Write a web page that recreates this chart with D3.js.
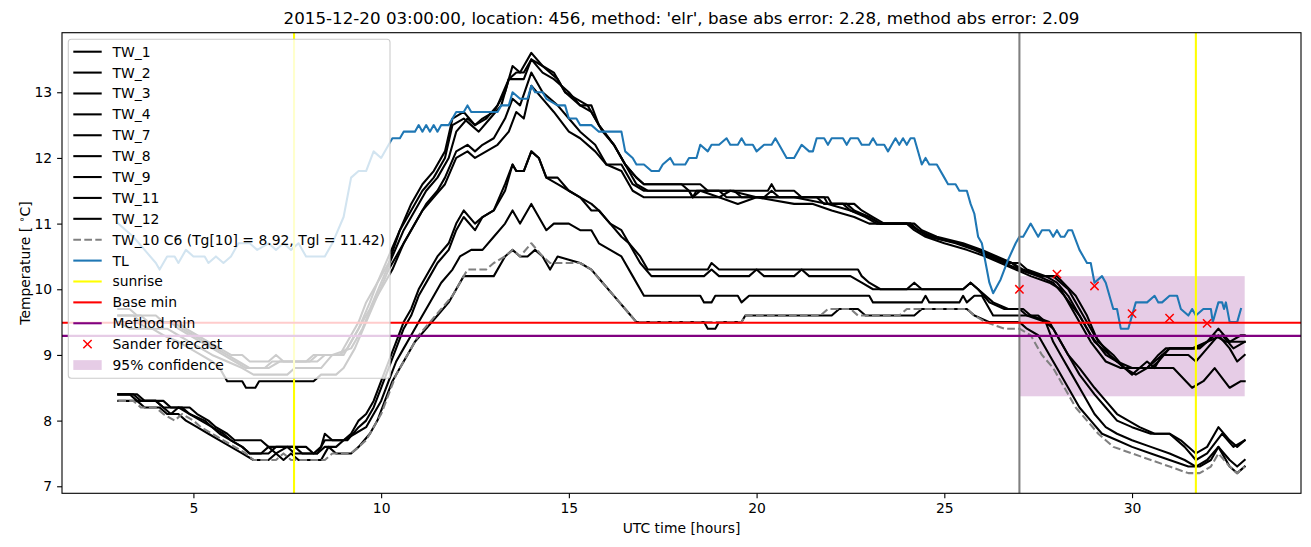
<!DOCTYPE html>
<html><head><meta charset="utf-8">
<script src="https://cdn.jsdelivr.net/npm/d3@7"></script>
<style>body{margin:0;background:#fff} text{font-family:"DejaVu Sans",sans-serif;fill:#000}</style>
</head><body><svg id="c" width="1311" height="547"></svg>
<script>
// ---------- data ([UTC hour, temperature °C]) ----------
const tw1 = [[3.0,9.7],[3.3,9.7],[3.5,9.6],[4.0,9.6],[4.2,9.5],[4.6,9.5],[4.8,9.4],[5.1,9.3],[5.4,9.2],[5.7,9.1],[6.0,9.0],[6.3,9.0],[6.5,8.9],[7.0,8.9],[7.2,9.0],[7.4,8.9],[8.0,8.9],[8.2,9.0],[8.9,9.0],[9.1,9.2],[9.4,9.5],[9.6,9.8],[9.8,10.0],[10.0,10.2],[10.2,10.4],[10.5,10.9],[10.8,11.3],[11.1,11.6],[11.4,11.8],[11.7,12.1],[11.9,12.6],[12.2,12.7],[12.5,12.5],[12.7,12.6],[13.0,12.7],[13.3,13.0],[13.5,13.4],[13.7,13.3],[14.0,13.6],[14.3,13.4],[14.7,13.2],[14.9,13.0],[15.3,12.8],[15.6,12.8],[15.8,12.5],[16.2,12.2],[16.5,11.9],[16.8,11.7],[17.0,11.6],[18.5,11.6],[18.7,11.5],[19.5,11.5],[20.3,11.5],[20.4,11.6],[20.5,11.5],[21.0,11.5],[21.2,11.4],[21.9,11.4],[22.0,11.3],[22.4,11.3],[22.6,11.2],[23.0,11.1],[23.3,11.0],[24.1,11.0],[24.3,10.9],[24.7,10.8],[25.4,10.7],[25.9,10.6],[26.3,10.5],[26.8,10.4],[27.0,10.3],[27.5,10.2],[28.0,10.2],[28.5,9.9],[28.8,9.6],[29.1,9.2],[29.5,9.0],[29.8,8.8],[30.0,8.7],[30.2,8.8],[30.4,8.8],[30.7,9.0],[30.9,9.1],[31.6,9.1],[32.0,9.2],[32.3,9.4],[32.6,9.2],[32.9,9.3],[33.0,9.3]];
const tw2 = [[3.0,9.6],[3.6,9.6],[3.8,9.5],[4.5,9.5],[4.7,9.4],[5.0,9.3],[5.3,9.2],[5.6,9.1],[5.9,9.0],[6.2,8.9],[6.5,8.8],[7.0,8.8],[7.3,8.9],[8.3,8.9],[8.5,9.0],[9.0,9.0],[9.2,9.2],[9.5,9.5],[9.7,9.7],[10.0,10.1],[10.3,10.5],[10.6,10.9],[10.9,11.2],[11.2,11.5],[11.5,11.7],[11.8,12.0],[12.0,12.4],[12.3,12.6],[12.5,12.5],[12.8,12.6],[13.1,12.8],[13.4,13.2],[13.6,13.2],[13.8,13.2],[14.0,13.5],[14.3,13.3],[14.6,13.2],[15.0,13.0],[15.3,12.8],[15.6,12.7],[15.9,12.4],[16.2,12.2],[16.5,11.9],[16.8,11.6],[17.1,11.5],[18.2,11.5],[18.3,11.4],[18.5,11.5],[19.0,11.4],[19.3,11.5],[20.0,11.4],[21.8,11.4],[21.9,11.3],[22.6,11.3],[22.8,11.2],[23.1,11.1],[23.4,11.0],[24.2,11.0],[24.4,10.9],[24.8,10.8],[25.5,10.7],[26.0,10.6],[26.4,10.5],[26.8,10.4],[27.1,10.3],[27.6,10.2],[27.9,10.2],[28.3,10.0],[28.6,9.7],[29.0,9.3],[29.4,9.0],[29.8,8.8],[30.1,8.7],[30.4,8.8],[30.8,9.0],[31.0,9.1],[31.8,9.1],[32.2,9.3],[32.5,9.2],[33.0,9.2]];
const tw3 = [[3.0,9.5],[3.5,9.5],[3.8,9.4],[4.3,9.4],[4.6,9.3],[4.9,9.2],[5.2,9.1],[5.5,9.0],[5.9,8.9],[6.3,8.8],[6.6,8.7],[7.5,8.7],[7.7,8.8],[8.4,8.8],[8.7,9.0],[9.2,9.1],[9.5,9.4],[9.8,9.8],[10.0,10.0],[10.3,10.3],[10.6,10.7],[10.9,11.0],[11.2,11.3],[11.5,11.5],[11.7,11.7],[12.0,12.1],[12.3,12.2],[12.5,12.1],[12.7,12.2],[13.0,12.3],[13.3,12.6],[13.5,12.9],[13.7,12.8],[14.0,13.3],[14.3,13.0],[14.7,12.8],[15.0,12.6],[15.3,12.4],[15.7,12.2],[16.0,11.9],[16.4,11.9],[16.7,11.6],[17.0,11.5],[18.2,11.5],[18.3,11.4],[18.4,11.5],[19.0,11.5],[19.2,11.4],[21.0,11.4],[21.9,11.3],[22.5,11.2],[23.0,11.1],[23.3,11.0],[24.0,11.0],[24.3,10.9],[24.6,10.8],[25.3,10.7],[25.8,10.6],[26.2,10.5],[26.6,10.4],[27.0,10.3],[27.5,10.2],[27.9,10.1],[28.2,9.9],[28.6,9.6],[28.9,9.3],[29.3,9.0],[29.6,8.9],[30.0,8.8],[30.2,8.8],[30.4,8.9],[30.6,8.8],[30.8,9.0],[31.5,9.0],[31.7,8.9],[32.0,9.1],[32.3,9.3],[32.6,9.1],[32.8,8.9],[33.0,9.0]];
const tw4 = [[3.0,9.5],[3.3,9.4],[3.9,9.4],[4.2,9.3],[4.6,9.2],[4.9,9.1],[5.2,9.0],[5.5,8.9],[5.7,8.8],[5.8,8.7],[5.9,8.6],[6.3,8.6],[6.4,8.5],[6.65,8.5],[6.75,8.6],[8.2,8.6],[8.4,8.7],[8.8,8.7],[9.0,8.8],[9.3,9.1],[9.6,9.5],[9.9,9.9],[10.2,10.3],[10.5,10.6],[10.8,10.9],[11.1,11.2],[11.4,11.4],[11.7,11.6],[12.0,12.0],[12.3,12.1],[12.5,12.0],[12.8,12.1],[13.1,12.2],[13.4,12.4],[13.6,12.7],[13.8,12.6],[14.0,13.1],[14.3,12.9],[14.6,12.7],[15.0,12.4],[15.3,12.3],[15.7,12.1],[16.0,11.9],[16.4,11.8],[16.7,11.5],[17.0,11.4],[19.0,11.4],[19.5,11.3],[20.0,11.4],[21.0,11.3],[21.5,11.3],[22.0,11.2],[22.6,11.1],[23.0,11.0],[24.0,11.0],[24.2,10.9],[24.5,10.8],[25.0,10.7],[25.6,10.6],[26.1,10.5],[26.5,10.4],[26.9,10.3],[27.3,10.2],[27.8,10.1],[28.1,10.0],[28.5,9.6],[28.9,9.2],[29.3,8.9],[29.7,8.8],[31.1,8.8],[31.6,8.5],[31.9,8.6],[32.2,8.8],[32.6,8.5],[32.9,8.6],[33.0,8.6]];
const tw7 = [[3.0,9.6],[3.4,9.6],[3.6,9.5],[4.4,9.5],[4.6,9.4],[4.9,9.3],[5.2,9.2],[5.5,9.1],[5.8,9.0],[6.1,8.9],[6.4,8.8],[6.9,8.8],[7.1,8.9],[8.1,8.9],[8.3,9.0],[8.9,9.0],[9.1,9.1],[9.4,9.4],[9.7,9.8],[9.9,10.1],[10.2,10.5],[10.5,10.9],[10.8,11.2],[11.1,11.5],[11.4,11.7],[11.7,12.0],[11.9,12.5],[12.2,12.6],[12.4,12.5],[12.6,12.4],[12.9,12.6],[13.2,12.8],[13.4,13.2],[13.6,13.3],[13.8,13.3],[14.0,13.5],[14.3,13.4],[14.6,13.3],[14.9,13.0],[15.2,12.9],[15.5,12.8],[15.8,12.5],[16.2,12.2],[16.5,11.9],[16.8,11.7],[17.0,11.6],[18.0,11.6],[18.2,11.5],[19.4,11.5],[19.6,11.4],[20.2,11.4],[20.4,11.5],[20.6,11.4],[21.6,11.4],[21.8,11.3],[22.3,11.3],[22.5,11.2],[22.9,11.1],[23.2,11.0],[24.1,11.0],[24.3,10.9],[24.6,10.8],[25.4,10.7],[25.9,10.6],[26.3,10.5],[26.7,10.4],[27.0,10.4],[27.2,10.3],[27.7,10.2],[28.0,10.1],[28.3,9.9],[28.7,9.5],[29.0,9.2],[29.4,9.0],[29.8,8.8],[30.5,8.8],[30.7,8.9],[31.0,9.1],[31.7,9.1],[32.0,9.2],[32.4,9.3],[32.7,9.1],[33.0,9.2]];
const tw8 = [[3.0,8.4],[3.5,8.4],[3.7,8.3],[4.2,8.3],[4.4,8.2],[4.9,8.2],[5.1,8.1],[5.4,8.0],[5.6,7.9],[5.9,7.8],[6.1,7.7],[6.8,7.7],[7.0,7.6],[7.2,7.5],[7.5,7.6],[8.0,7.6],[8.2,7.5],[8.4,7.6],[8.5,7.8],[8.7,7.7],[9.0,7.7],[9.2,7.8],[9.4,8.0],[9.6,8.1],[9.8,8.3],[10.0,8.6],[10.2,8.9],[10.4,9.2],[10.6,9.5],[10.8,9.7],[11.0,10.0],[11.3,10.3],[11.5,10.5],[11.8,10.7],[12.0,11.0],[12.2,11.2],[12.5,11.0],[12.7,11.1],[13.0,11.2],[13.3,11.6],[13.5,11.9],[13.6,11.8],[13.8,11.8],[14.0,12.1],[14.2,12.0],[14.4,11.7],[14.7,11.7],[15.0,11.5],[15.3,11.4],[15.6,11.3],[15.8,11.2],[16.1,11.0],[16.4,10.9],[16.6,10.7],[16.9,10.5],[17.1,10.3],[18.7,10.3],[18.8,10.4],[19.0,10.3],[22.7,10.3],[22.8,10.2],[23.0,10.1],[23.3,10.0],[24.0,10.0],[24.2,10.1],[24.4,10.0],[25.5,10.0],[25.7,10.1],[25.9,10.0],[26.2,9.8],[26.6,9.7],[27.0,9.7],[27.2,9.6],[27.7,9.5],[27.9,9.4],[28.1,9.2],[28.3,9.0],[28.6,8.8],[29.0,8.5],[29.3,8.3],[29.6,8.1],[29.9,8.0],[30.2,7.9],[30.6,7.8],[31.0,7.8],[31.3,7.7],[31.7,7.5],[32.0,7.6],[32.3,7.9],[32.6,7.7],[32.8,7.6],[33.0,7.7]];
const tw9 = [[3.0,8.4],[3.4,8.4],[3.6,8.3],[4.0,8.3],[4.2,8.2],[4.7,8.2],[4.9,8.1],[5.3,8.0],[5.5,7.9],[5.8,7.8],[6.0,7.7],[6.3,7.6],[6.5,7.5],[7.0,7.5],[7.2,7.6],[7.7,7.6],[7.9,7.5],[8.3,7.5],[8.5,7.7],[9.1,7.7],[9.4,7.9],[9.6,8.0],[9.8,8.2],[10.0,8.5],[10.2,8.8],[10.4,9.1],[10.6,9.4],[10.8,9.6],[11.0,9.9],[11.3,10.2],[11.5,10.4],[11.8,10.6],[12.0,10.9],[12.2,11.1],[12.5,10.9],[12.7,11.1],[13.0,11.2],[13.3,11.5],[13.5,11.9],[13.6,11.8],[13.8,11.8],[14.0,12.1],[14.2,12.0],[14.4,11.7],[14.7,11.6],[15.0,11.5],[15.3,11.4],[15.6,11.2],[15.8,11.2],[16.1,11.0],[16.4,10.8],[16.6,10.7],[16.9,10.4],[17.2,10.2],[18.6,10.2],[18.8,10.3],[19.0,10.2],[19.8,10.2],[20.0,10.3],[20.2,10.2],[21.0,10.2],[21.2,10.3],[21.4,10.2],[22.5,10.2],[22.8,10.1],[23.1,10.0],[25.5,10.0],[25.7,10.1],[25.9,10.0],[26.3,9.8],[26.7,9.7],[27.1,9.7],[27.3,9.6],[27.8,9.5],[28.0,9.3],[28.3,9.0],[28.6,8.7],[29.0,8.4],[29.3,8.2],[29.6,8.0],[30.0,7.9],[30.5,7.8],[31.0,7.8],[31.4,7.6],[31.7,7.4],[32.0,7.5],[32.4,7.8],[32.7,7.6],[33.0,7.7]];
const tw11 = [[3.0,8.4],[3.3,8.4],[3.5,8.3],[4.0,8.3],[4.2,8.2],[4.4,8.1],[4.6,8.2],[4.9,8.1],[5.2,8.0],[5.5,7.9],[5.7,7.8],[6.0,7.7],[6.3,7.6],[6.5,7.5],[6.8,7.5],[7.0,7.6],[7.5,7.6],[7.7,7.5],[8.3,7.5],[8.5,7.6],[8.8,7.6],[9.0,7.7],[9.3,7.8],[9.6,7.9],[9.8,8.1],[10.0,8.3],[10.2,8.6],[10.4,8.9],[10.6,9.1],[10.8,9.3],[11.0,9.5],[11.3,9.8],[11.6,10.1],[11.9,10.3],[12.1,10.5],[12.4,10.6],[12.7,10.6],[13.0,10.8],[13.3,11.0],[13.5,11.2],[13.7,11.0],[14.0,11.3],[14.4,10.9],[14.6,11.0],[15.0,11.0],[15.3,10.9],[15.6,10.9],[15.8,10.7],[16.1,10.6],[16.4,10.5],[16.7,10.2],[17.0,9.9],[18.5,9.9],[18.6,9.8],[18.8,9.8],[18.9,9.9],[19.5,9.9],[19.6,9.8],[19.8,9.9],[23.0,9.9],[23.1,9.8],[24.4,9.8],[24.5,9.9],[24.6,9.8],[25.4,9.8],[25.5,9.9],[25.6,9.8],[25.8,9.9],[26.0,9.9],[26.3,9.6],[27.5,9.6],[27.7,9.5],[27.9,9.2],[28.1,9.0],[28.4,8.7],[28.7,8.4],[29.0,8.1],[29.3,7.9],[29.6,7.8],[30.0,7.7],[30.5,7.6],[31.0,7.5],[31.4,7.4],[31.7,7.3],[32.0,7.4],[32.3,7.6],[32.6,7.4],[32.8,7.3],[33.0,7.4]];
const tw12 = [[3.0,8.3],[3.5,8.3],[3.7,8.2],[4.1,8.2],[4.3,8.1],[4.6,8.1],[4.8,8.0],[5.1,7.9],[5.4,7.8],[5.7,7.7],[6.0,7.6],[6.3,7.5],[6.6,7.4],[7.0,7.4],[7.2,7.5],[7.4,7.4],[7.6,7.5],[7.8,7.4],[8.4,7.4],[8.6,7.6],[8.8,7.5],[9.2,7.5],[9.4,7.6],[9.7,7.8],[9.9,8.0],[10.1,8.3],[10.3,8.6],[10.5,8.8],[10.7,9.0],[10.9,9.2],[11.2,9.4],[11.5,9.6],[11.8,9.8],[12.0,10.0],[12.2,10.2],[13.0,10.2],[13.3,10.5],[13.5,10.6],[13.7,10.5],[13.9,10.5],[14.1,10.6],[14.3,10.5],[14.5,10.3],[14.7,10.5],[15.3,10.4],[15.6,10.3],[15.9,10.1],[16.2,9.9],[16.5,9.7],[16.8,9.5],[18.6,9.5],[18.7,9.4],[18.9,9.4],[19.0,9.5],[19.6,9.5],[19.7,9.6],[22.0,9.6],[22.2,9.7],[22.7,9.7],[22.9,9.6],[24.2,9.6],[24.4,9.7],[25.6,9.7],[25.8,9.6],[26.2,9.5],[27.0,9.5],[27.2,9.4],[27.5,9.3],[27.8,9.0],[28.0,8.8],[28.3,8.5],[28.6,8.2],[28.9,8.0],[29.2,7.8],[29.6,7.7],[30.0,7.6],[30.5,7.5],[31.0,7.4],[31.5,7.3],[31.8,7.3],[32.1,7.4],[32.3,7.6],[32.6,7.3],[32.8,7.2],[33.0,7.3]];
const tw10 = [[3.0,8.3],[3.4,8.3],[3.6,8.2],[4.0,8.2],[4.2,8.1],[4.5,8.0],[4.7,8.1],[5.0,8.0],[5.2,7.9],[5.5,7.8],[5.8,7.7],[6.1,7.6],[6.4,7.5],[6.6,7.4],[7.2,7.4],[7.4,7.5],[7.6,7.4],[8.5,7.4],[8.7,7.5],[9.2,7.5],[9.4,7.6],[9.6,7.7],[9.8,7.9],[10.0,8.1],[10.2,8.4],[10.4,8.7],[10.6,8.9],[10.8,9.1],[11.0,9.3],[11.3,9.5],[11.6,9.7],[11.9,9.9],[12.1,10.1],[12.3,10.3],[12.8,10.3],[13.0,10.4],[13.3,10.5],[13.5,10.6],[13.7,10.5],[14.0,10.7],[14.3,10.5],[14.5,10.4],[15.3,10.4],[15.6,10.3],[15.9,10.1],[16.2,9.9],[16.5,9.7],[16.8,9.5],[19.6,9.5],[19.7,9.6],[21.7,9.6],[21.9,9.7],[22.5,9.7],[22.7,9.6],[23.8,9.6],[24.0,9.7],[25.6,9.7],[25.8,9.6],[26.1,9.5],[26.6,9.4],[27.0,9.4],[27.3,9.3],[27.6,9.0],[27.9,8.8],[28.2,8.5],[28.5,8.2],[28.8,8.0],[29.1,7.8],[29.5,7.6],[30.0,7.5],[30.5,7.4],[31.0,7.3],[31.5,7.2],[31.8,7.2],[32.1,7.3],[32.3,7.5],[32.6,7.3],[32.8,7.2],[33.0,7.3]];
const tl = [[3.0,11.0],[3.2,10.9],[3.4,10.8],[3.7,10.6],[4.0,10.4],[4.1,10.3],[4.3,10.5],[4.5,10.5],[4.6,10.4],[4.8,10.6],[5.0,10.5],[5.3,10.5],[5.4,10.4],[5.6,10.5],[5.8,10.4],[6.0,10.5],[6.2,10.7],[6.5,10.7],[6.7,10.6],[7.0,10.7],[7.2,10.6],[7.4,10.7],[7.6,10.6],[7.8,10.7],[8.0,10.5],[8.5,10.5],[8.7,10.7],[9.0,11.1],[9.2,11.7],[9.4,11.8],[9.6,11.8],[9.8,12.1],[10.0,12.0],[10.2,12.2],[10.3,12.3],[10.5,12.3],[10.6,12.4],[10.9,12.4],[11.0,12.5],[11.1,12.4],[11.2,12.5],[11.3,12.4],[11.4,12.5],[11.5,12.4],[11.6,12.5],[11.8,12.5],[12.0,12.7],[12.2,12.7],[12.3,12.8],[12.4,12.7],[13.1,12.7],[13.2,12.8],[13.4,12.8],[13.5,13.0],[13.7,12.9],[13.9,12.9],[14.0,13.1],[14.1,13.0],[14.3,13.0],[14.4,12.9],[14.7,12.8],[14.9,12.8],[15.0,12.6],[15.2,12.6],[15.3,12.5],[15.6,12.5],[15.8,12.4],[16.4,12.4],[16.5,12.1],[16.7,12.0],[16.8,11.9],[17.0,11.9],[17.2,11.8],[17.4,11.8],[17.5,11.9],[17.7,12.0],[17.8,11.9],[18.1,11.9],[18.2,12.0],[18.4,12.0],[18.5,12.2],[18.7,12.1],[18.8,12.2],[19.0,12.2],[19.2,12.3],[19.3,12.2],[19.5,12.2],[19.6,12.3],[19.7,12.2],[19.9,12.2],[20.0,12.1],[20.2,12.2],[20.4,12.2],[20.5,12.3],[20.6,12.2],[20.8,12.0],[21.0,12.0],[21.2,12.2],[21.4,12.1],[21.5,12.1],[21.6,12.3],[21.8,12.3],[21.9,12.2],[22.0,12.3],[22.3,12.3],[22.4,12.2],[22.5,12.3],[22.7,12.3],[22.8,12.2],[23.0,12.2],[23.1,12.3],[23.2,12.2],[23.4,12.2],[23.5,12.1],[23.6,12.2],[23.7,12.3],[23.8,12.2],[23.9,12.3],[24.0,12.2],[24.1,12.3],[24.2,12.3],[24.4,11.9],[24.5,12.0],[24.6,11.9],[24.8,11.9],[25.0,11.7],[25.1,11.6],[25.3,11.6],[25.4,11.5],[25.6,11.5],[25.7,11.3],[25.8,11.15],[25.9,10.8],[26.0,10.7],[26.1,10.4],[26.2,10.1],[26.3,9.94],[26.5,10.15],[26.7,10.45],[26.9,10.7],[27.0,10.8],[27.1,10.8],[27.3,11.0],[27.5,10.8],[27.6,10.9],[27.8,10.9],[27.9,10.8],[28.0,10.9],[28.1,10.8],[28.2,10.8],[28.3,10.9],[28.4,10.9],[28.6,10.6],[28.8,10.4],[28.9,10.4],[29.0,10.1],[29.2,10.2],[29.3,10.1],[29.5,9.7],[29.6,9.7],[29.7,9.4],[29.9,9.4],[30.1,9.8],[30.4,9.8],[30.6,9.9],[30.7,9.8],[30.8,9.8],[31.0,9.9],[31.2,9.9],[31.3,9.7],[31.5,9.6],[31.6,9.7],[31.7,9.6],[31.9,9.7],[32.1,9.7],[32.15,9.5],[32.3,9.8],[32.4,9.8],[32.45,9.7],[32.5,9.8],[32.6,9.5],[32.8,9.5],[32.9,9.7]];
const forecastHours = [27, 28, 29, 30, 31, 32];
const forecastValues = [10.0, 10.23, 10.05, 9.63, 9.56, 9.48];
const confidenceHours = [27, 33];
const confidenceRange = [8.37, 10.2];
const sunriseHours = [7.68, 31.7];
const forecastStart = 27;
const baseMin = 9.49;
const methodMin = 9.29;
const xTicks = [5, 10, 15, 20, 25, 30];
const yTicks = [7, 8, 9, 10, 11, 12, 13];
const twSeries = [["TW_1", tw1], ["TW_2", tw2], ["TW_3", tw3], ["TW_4", tw4], ["TW_7", tw7], ["TW_8", tw8], ["TW_9", tw9], ["TW_11", tw11], ["TW_12", tw12]];
const title = "2015-12-20 03:00:00, location: 456, method: 'elr', base abs error: 2.28, method abs error: 2.09";

// ---------- layout ----------
const svg = d3.select("#c");
const L = 62, R = 1301, T = 32.7, B = 493.3;
const x = d3.scaleLinear().domain([1.5, 34.5]).range([L, R]);
const y = d3.scaleLinear().domain([6.893, 13.907]).range([B, T]);
const line = d3.line().x(d => x(d[0])).y(d => y(d[1]));
const FS = 13.9;

const clip = svg.append("clipPath").attr("id", "clip").append("rect")
  .attr("x", L).attr("y", T).attr("width", R - L).attr("height", B - T);
const plot = svg.append("g").attr("clip-path", "url(#clip)");

// confidence fill (below lines)
plot.append("rect")
  .attr("x", x(confidenceHours[0])).attr("width", x(confidenceHours[1]) - x(confidenceHours[0]))
  .attr("y", y(confidenceRange[1])).attr("height", y(confidenceRange[0]) - y(confidenceRange[1]))
  .attr("fill", "purple").attr("fill-opacity", 0.2);

// TW lines
twSeries.forEach(([n, d]) => {
  plot.append("path").attr("d", line(d)).attr("fill", "none").attr("stroke", "#000")
    .attr("stroke-width", 2.08).attr("stroke-linejoin", "round").attr("stroke-linecap", "square");
});
plot.append("path").attr("d", line(tw10)).attr("fill", "none").attr("stroke", "#808080")
  .attr("stroke-width", 2.08).attr("stroke-dasharray", "7.7,3.3").attr("stroke-linejoin", "round");
plot.append("path").attr("d", line(tl)).attr("fill", "none").attr("stroke", "#1f77b4")
  .attr("stroke-width", 2.08).attr("stroke-linejoin", "round").attr("stroke-linecap", "square");

// vertical / horizontal reference lines
plot.append("line").attr("x1", x(forecastStart)).attr("x2", x(forecastStart)).attr("y1", T).attr("y2", B)
  .attr("stroke", "#808080").attr("stroke-width", 2.08);
sunriseHours.forEach(h => plot.append("line").attr("x1", x(h)).attr("x2", x(h)).attr("y1", T).attr("y2", B)
  .attr("stroke", "#ffff00").attr("stroke-width", 2.08));
plot.append("line").attr("x1", L).attr("x2", R).attr("y1", y(baseMin)).attr("y2", y(baseMin))
  .attr("stroke", "#ff0000").attr("stroke-width", 2.08);
plot.append("line").attr("x1", L).attr("x2", R).attr("y1", y(methodMin)).attr("y2", y(methodMin))
  .attr("stroke", "#800080").attr("stroke-width", 2.08);

// forecast markers
const xm = (g, cx, cy) => {
  const s = 4.15;
  g.append("path").attr("d", `M${cx - s},${cy - s}L${cx + s},${cy + s}M${cx - s},${cy + s}L${cx + s},${cy - s}`)
    .attr("stroke", "#ff0000").attr("stroke-width", 1.5).attr("fill", "none");
};
forecastHours.forEach((h, i) => xm(plot, x(h), y(forecastValues[i])));

// axes
const xa = svg.append("g").attr("transform", `translate(0,${B})`)
  .call(d3.axisBottom(x).tickValues(xTicks).tickSize(4.9).tickPadding(4.9).tickFormat(d3.format("d")));
const ya = svg.append("g").attr("transform", `translate(${L},0)`)
  .call(d3.axisLeft(y).tickValues(yTicks).tickSize(4.9).tickPadding(4.9).tickFormat(d3.format("d")));
[xa, ya].forEach(a => {
  a.select(".domain").remove();
  a.selectAll("line").attr("stroke", "#000").attr("stroke-width", 1.1);
  a.selectAll("text").attr("font-size", FS).attr("font-family", "DejaVu Sans");
});
svg.append("rect").attr("x", L).attr("y", T).attr("width", R - L).attr("height", B - T)
  .attr("fill", "none").attr("stroke", "#000").attr("stroke-width", 1.1);

// labels
svg.append("text").attr("x", (L + R) / 2).attr("y", 533).attr("text-anchor", "middle")
  .attr("font-size", FS).text("UTC time [hours]");
const yl = svg.append("text").attr("transform", `translate(30,${(T + B) / 2}) rotate(-90)`)
  .attr("text-anchor", "middle").attr("font-size", FS);
yl.append("tspan").text("Temperature [ ");
yl.append("tspan").attr("font-size", FS * 0.7).attr("dy", -5).text("∘");
yl.append("tspan").attr("dy", 5).text("C]");
svg.append("text").attr("x", (L + R) / 2).attr("y", 24.3).attr("text-anchor", "middle")
  .attr("font-size", 16.7).text(title);

// legend
const lg = svg.append("g");
lg.append("rect").attr("x", 68.3).attr("y", 39.3).attr("width", 321.7).attr("height", 339)
  .attr("rx", 3).attr("fill", "#fff").attr("fill-opacity", 0.8).attr("stroke", "#cccccc").attr("stroke-width", 1.1);
const entries = twSeries.map(([n]) => ({ n, t: "line", c: "#000" }))
  .concat([
    { n: "TW_10 C6 (Tg[10] = 8.92, Tgl = 11.42)", t: "dash", c: "#808080" },
    { n: "TL", t: "line", c: "#1f77b4" },
    { n: "sunrise", t: "line", c: "#ffff00" },
    { n: "Base min", t: "line", c: "#ff0000" },
    { n: "Method min", t: "line", c: "#800080" },
    { n: "Sander forecast", t: "x", c: "#ff0000" },
    { n: "95% confidence", t: "patch", c: "purple" }
  ]);
const step = 20.89, y0 = 51.7;
entries.forEach((e, i) => {
  const cy = y0 + i * step;
  if (e.t === "line" || e.t === "dash") {
    const l = lg.append("line").attr("x1", 73.3).attr("x2", 101.7).attr("y1", cy).attr("y2", cy)
      .attr("stroke", e.c).attr("stroke-width", 2.08);
    if (e.t === "dash") l.attr("stroke-dasharray", "7.7,3.3");
  } else if (e.t === "x") {
    xm(lg, 87.5, cy);
  } else {
    lg.append("rect").attr("x", 73.3).attr("y", cy - 4.9).attr("width", 28.4).attr("height", 9.8)
      .attr("fill", e.c).attr("fill-opacity", 0.2);
  }
  lg.append("text").attr("x", 112.5).attr("y", cy + 5).attr("font-size", FS).text(e.n);
});
</script></body></html>
